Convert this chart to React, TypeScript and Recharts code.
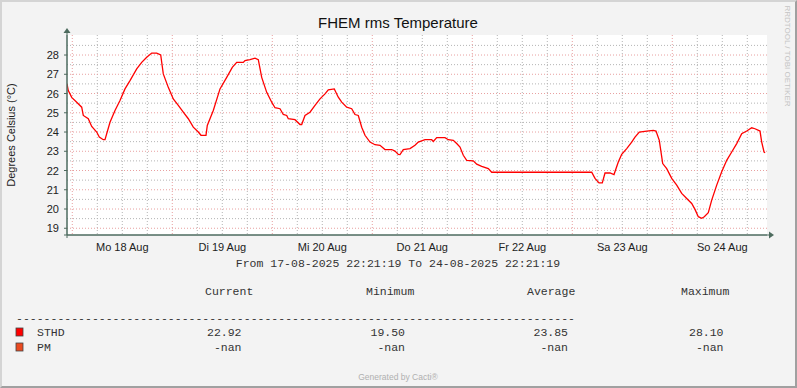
import { LineChart, Line, XAxis, YAxis, CartesianGrid } from "recharts";

// hours since 18 Aug 00:00
const hours = [
  -1.27, -0.96, -0.14, 1.06, 2.26, 2.64, 3.84, 4.66, 5.86, 6.48, 7.44, 7.85, 9.05, 10.25, 11.45,
  12.65, 13.85, 15.46, 16.66, 17.86, 19.06, 20.26, 21.22, 21.84, 23.04, 24.24, 25.44, 26.64,
  27.84, 29.04, 30.24, 30.89, 32.09, 32.4, 33.84, 35.45, 37.06, 38.4, 39.46, 41.04, 41.45, 42.65,
  43.85, 44.64, 45.46, 46.66, 47.86, 48.65, 49.85, 50.64, 51.46, 51.84, 53.45, 54.65, 55.06,
  55.85, 57.05, 58.25, 59.45, 60.65, 61.44, 62.88, 63.84, 64.66, 65.86, 67.06, 67.85, 68.64,
  69.46, 70.25, 71.45, 72.65, 73.85, 75.05, 76.66, 77.45, 78.24, 78.65, 79.44, 81.05, 82.25,
  83.04, 84.65, 86.26, 86.64, 87.46, 89.45, 90.24, 91.44, 92.26, 93.05, 93.84, 94.66, 96.24,
  97.06, 98.26, 99.84, 100.66, 124.66, 125.45, 126.41, 127.2, 127.85, 129.05, 130.01, 131.04,
  131.86, 133.06, 134.26, 135.05, 136.08, 137.86, 139.44, 140.09, 140.88, 141.7, 142.66, 143.86,
  145.06, 146.26, 147.46, 148.66, 149.45, 150.24, 151.06, 151.68, 152.64, 153.46, 154.66,
  155.86, 157.06, 158.26, 159.46, 160.66, 161.86, 163.06, 163.85, 165.05, 165.46, 166.03, 166.27,
];

const sthd = [
  26.5, 26.15, 25.8, 25.55, 25.29, 24.86, 24.69, 24.29, 24.0, 23.74, 23.6, 23.6, 24.51, 25.12, 25.64,
  26.24, 26.67, 27.28, 27.62, 27.88, 28.1, 28.1, 28.0, 27.02, 26.32, 25.72, 25.38, 25.03,
  24.69, 24.25, 24.0, 23.83, 23.83, 24.34, 25.12, 26.24, 26.84, 27.36, 27.62, 27.62, 27.71, 27.76,
  27.84, 27.76, 26.84, 26.06, 25.55, 25.26, 25.21, 24.91, 24.86, 24.69, 24.64, 24.39, 24.39,
  24.86, 25.03, 25.38, 25.72, 25.98, 26.19, 26.24, 25.81, 25.55, 25.29, 25.21, 24.91, 24.86,
  24.25, 23.83, 23.48, 23.34, 23.31, 23.09, 23.09, 23.01, 22.84, 22.83, 23.09, 23.14, 23.31,
  23.48, 23.6, 23.6, 23.51, 23.71, 23.71, 23.6, 23.57, 23.4, 23.22, 22.79, 22.53, 22.5,
  22.33, 22.22, 22.1, 21.91, 21.91, 21.59, 21.36, 21.36, 21.87, 21.87, 21.79, 22.44,
  22.84, 23.14, 23.48, 23.74, 24.0, 24.05, 24.08, 24.05, 23.57, 22.36, 22.1, 21.59,
  21.24, 20.81, 20.55, 20.29, 19.98, 19.6, 19.52, 19.6, 19.81, 20.46, 21.24,
  21.93, 22.53, 22.96, 23.4, 23.91, 24.05, 24.22, 24.17, 24.05, 23.48, 22.96, 22.92,
];

const dayTicks = [12, 36, 60, 84, 108, 132, 156];
const dayLabels = ["Mo 18 Aug", "Di 19 Aug", "Mi 20 Aug", "Do 21 Aug", "Fr 22 Aug", "Sa 23 Aug", "So 24 Aug"];
const minorHours = [6, 12, 18, 30, 36, 42, 54, 60, 66, 78, 84, 90, 102, 108, 114, 126, 132, 138, 150, 156, 162];
const majorHours = [0, 24, 48, 72, 96, 120, 144];
const yTicks = [19, 20, 21, 22, 23, 24, 25, 26, 27, 28];
const yMinor = [19.5, 20.5, 21.5, 22.5, 23.5, 24.5, 25.5, 26.5, 27.5, 28.5];

const legendNames = ["STHD", "PM"];
const legendColors = ["#ff0000", "#ea4a20"];
const current = ["22.92", "-nan"];
const minimum = ["19.50", "-nan"];
const average = ["23.85", "-nan"];
const maximum = ["28.10", "-nan"];

const data = hours.map((h, i) => ({ t: h, v: sthd[i] }));

const AXIS = "#4d6b5e";
const MONO = "'Liberation Mono', monospace";
const SANS = "'Liberation Sans', Arial, sans-serif";

function XTick(props: any) {
  const i = dayTicks.indexOf(props.payload.value);
  return (
    <text x={props.x} y={props.y + 14} textAnchor="middle" fontSize={11} fontFamily={SANS} fill="#222">
      {dayLabels[i]}
    </text>
  );
}

function YTick(props: any) {
  return (
    <text x={props.x - 3} y={props.y + 4} textAnchor="end" fontSize={11} fontFamily={SANS} fill="#222">
      {props.payload.value}
    </text>
  );
}

export default function App() {
  const cols = [241.5, 405, 568, 723.5];
  const rows = [336, 351];
  return (
    <div
      style={{
        position: "absolute",
        left: 0,
        top: 0,
        width: 797,
        height: 388,
        background: "#f3f3f3",
        boxSizing: "border-box",
        borderTop: "2px solid #d4d4d4",
        borderLeft: "2px solid #d4d4d4",
        borderRight: "2px solid #a0a0a0",
        borderBottom: "2px solid #a0a0a0",
      }}
    >
      <div style={{ position: "absolute", left: -2, top: -2 }}>
        <LineChart width={797} height={388} data={data} margin={{ top: 35, right: 30, bottom: 133, left: 7 }}>
          <CartesianGrid
            fill="#ffffff"
            stroke="#b4b4b4"
            strokeDasharray="1 2"
            horizontalValues={yMinor}
            verticalValues={minorHours}
          />
          <CartesianGrid
            stroke="#e8a0a0"
            strokeDasharray="1 2"
            horizontalValues={yTicks}
            verticalValues={majorHours}
          />
          <XAxis
            dataKey="t"
            type="number"
            domain={[-1.27, 166.73]}
            ticks={dayTicks}
            interval={0}
            height={20}
            tickLine={false}
            tickSize={0}
            axisLine={{ stroke: AXIS }}
            tick={<XTick />}
            allowDataOverflow
          />
          <YAxis
            type="number"
            domain={[18.65, 29.04]}
            ticks={yTicks}
            interval={0}
            width={60}
            tickSize={3}
            tickLine={{ stroke: AXIS }}
            axisLine={{ stroke: AXIS }}
            tick={<YTick />}
            allowDataOverflow
          />
          <Line
            dataKey="v"
            type="linear"
            stroke="#ff0000"
            strokeWidth={1.3}
            dot={false}
            isAnimationActive={false}
          />
        </LineChart>
        <svg width={797} height={388} style={{ position: "absolute", left: 0, top: 0, pointerEvents: "none" }}>
          <text x={398} y={28} textAnchor="middle" fontSize={15} fontFamily={SANS} fill="#111">
            FHEM rms Temperature
          </text>
          <text
            transform="translate(15,135) rotate(-90)"
            textAnchor="middle"
            fontSize={11}
            fontFamily={SANS}
            fill="#222"
          >
            Degrees Celsius (°C)
          </text>
          <text
            transform="translate(785,56) rotate(90)"
            textAnchor="middle"
            fontSize={8}
            fontFamily={SANS}
            fill="#c4c4c4"
          >
            RRDTOOL / TOBI OETIKER
          </text>
          <line x1={67} y1={32} x2={67} y2={238} stroke={AXIS} />
          <polygon points="67,28 63.5,33 70.5,33" fill={AXIS} />
          <line x1={64} y1={235} x2={770} y2={235} stroke={AXIS} />
          <polygon points="774,235 769,231.5 769,238.5" fill={AXIS} />
          <text x={398} y={267} textAnchor="middle" fontSize={11.5} fontFamily={MONO} fill="#333">
            From 17-08-2025 22:21:19 To 24-08-2025 22:21:19
          </text>
          {["Current", "Minimum", "Average", "Maximum"].map((h, i) => (
            <text key={h} x={[205, 366, 527, 681][i]} y={295} fontSize={11.5} fontFamily={MONO} fill="#333">
              {h}
            </text>
          ))}
          <text x={16} y={321.5} fontSize={11.5} fontFamily={MONO} fill="#333">
            {"-".repeat(81)}
          </text>
          {legendNames.map((n, i) => (
            <g key={n}>
              <rect x={16} y={rows[i] - 8} width={7} height={8} fill={legendColors[i]} stroke="#444" strokeWidth={0.8} />
              <text x={37} y={rows[i]} fontSize={11.5} fontFamily={MONO} fill="#333">
                {n}
              </text>
              {[current[i], minimum[i], average[i], maximum[i]].map((s, j) => (
                <text key={j} x={cols[j]} y={rows[i]} textAnchor="end" fontSize={11.5} fontFamily={MONO} fill="#333">
                  {s}
                </text>
              ))}
            </g>
          ))}
          <text x={398} y={380} textAnchor="middle" fontSize={8.5} fontFamily={SANS} fill="#b0b0b0">
            Generated by Cacti®
          </text>
        </svg>
      </div>
    </div>
  );
}
